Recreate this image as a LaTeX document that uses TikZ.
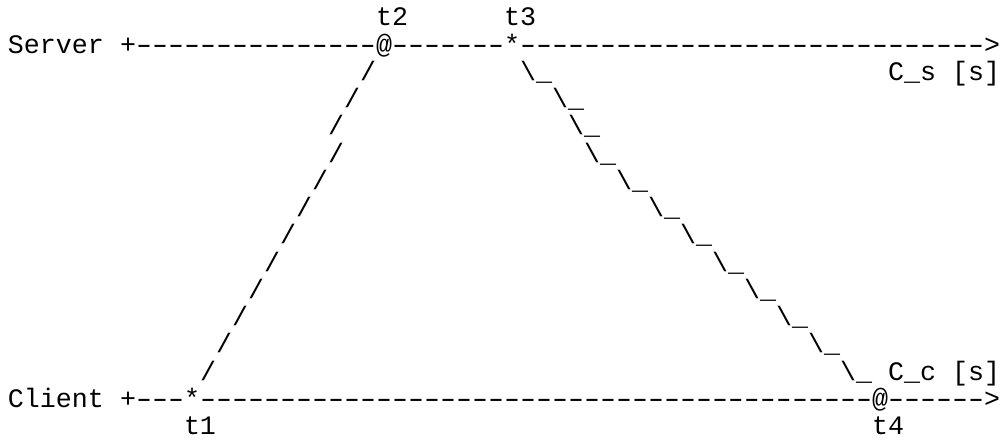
\documentclass[tikz,border=0pt]{standalone}
\usepackage{fontspec}
\usepackage{graphicx}
\setmonofont{Liberation Mono}
\ExplSyntaxOn
\cs_new:Npn \reppat #1 #2 { \prg_replicate:nn {#1} {#2} }
\ExplSyntaxOff
\newcommand\us{\char"5F\relax}
\newcommand\bs{\char"5C\relax}
\newcommand\hy{\makebox[8pt][c]{\scalebox{1.5}[1]{-}}}
\begin{document}
\begin{tikzpicture}[x=0.5pt,y=-0.5pt,
  ch/.style={anchor=base west,inner sep=0pt,outer sep=0pt,text=black,
    font=\ttfamily\fontsize{13.333pt}{14pt}\selectfont}]
\useasboundingbox (0,0) rectangle (1008,440);
% row baseline: 53 + 27.25*(row-2); column x: 8 + 16*col
\def\colx#1{8+16*#1}
\def\rowy#1{53+27.25*(#1-2)}
% row 1
\node[ch] (t2) at ({\colx{23}},{\rowy{1}}) {t2};
\node[ch] (t3) at ({\colx{31}},{\rowy{1}}) {t3};
% row 2: server timeline
\node[ch] (server) at ({\colx{0}},{\rowy{2}}) {Server};
\node[ch] (serverline) at ({\colx{7}},{\rowy{2}}) {+\reppat{15}{\hy}@\reppat{7}{\hy}*\reppat{29}{\hy}>};
% middle rows
\foreach \r/\s/\b in {3/22/32, 4/21/34, 5/20/35, 6/20/36, 7/19/38, 8/18/40,
                      9/17/42, 10/16/44, 11/15/46, 12/14/48, 13/13/50, 14/12/52}{
  \node[ch] (up\r) at ({\colx{\s}},{\rowy{\r}}) {/};
  \node[ch] (down\r) at ({\colx{\b}},{\rowy{\r}}) {\bs\us};
}
\node[ch] (cs) at ({\colx{55}},{\rowy{3}}) {C\us s [s]};
\node[ch] (cc) at ({\colx{55}},{\rowy{14}}) {C\us c [s]};
% row 15: client timeline
\node[ch] (client) at ({\colx{0}},{\rowy{15}}) {Client};
\node[ch] (clientline) at ({\colx{7}},{\rowy{15}}) {+\reppat{3}{\hy}*\reppat{42}{\hy}@\reppat{6}{\hy}>};
% row 16
\node[ch] (t1) at ({\colx{11}},{\rowy{16}}) {t1};
\node[ch] (t4) at ({\colx{54}},{\rowy{16}}) {t4};
\end{tikzpicture}
\end{document}
